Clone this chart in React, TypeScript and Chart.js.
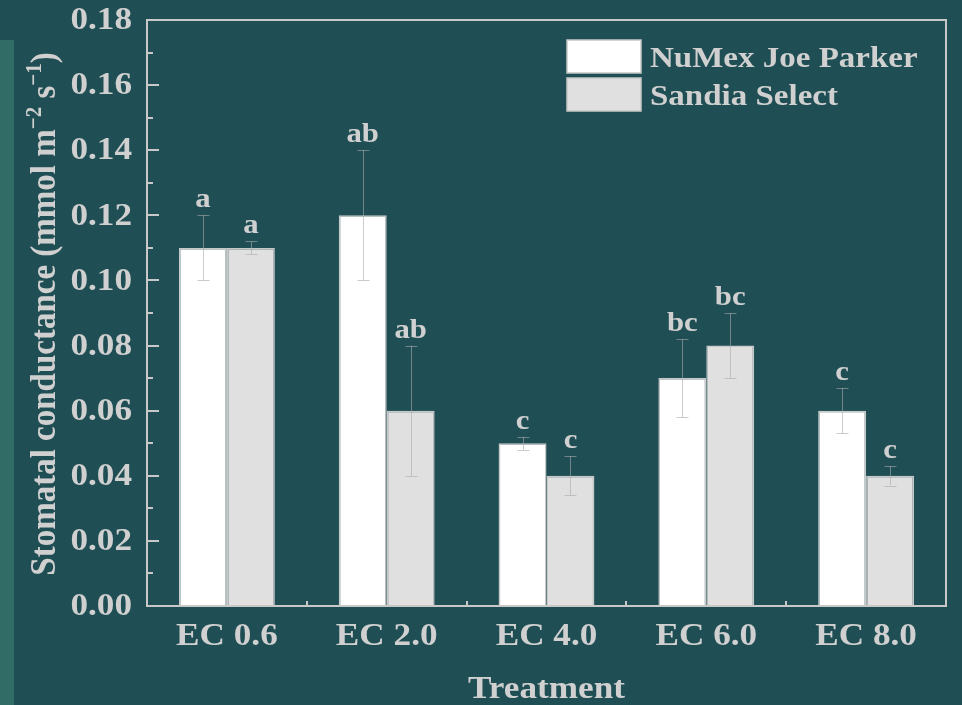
import React, { useEffect, useRef } from "react";
import { Chart, registerables } from "chart.js";

Chart.register(...registerables);

const categories = ["EC 0.6", "EC 2.0", "EC 4.0", "EC 6.0", "EC 8.0"];
const numexValues = [0.11, 0.12, 0.05, 0.07, 0.06];
const numexErrors = [0.01, 0.02, 0.002, 0.012, 0.007];
const numexLetters = ["a", "ab", "c", "bc", "c"];
const sandiaValues = [0.11, 0.06, 0.04, 0.08, 0.04];
const sandiaErrors = [0.002, 0.02, 0.006, 0.01, 0.003];
const sandiaLetters = ["a", "ab", "c", "bc", "c"];
const seriesNames = ["NuMex Joe Parker", "Sandia Select"];
const yTicksMax = 0.18;
const yStep = 0.02;

const FONT = '"Liberation Serif", "Times New Roman", serif';
const TEXT = "#d0d0d0";
const FRAME = "#c8c8c8";
const BG = "#1f4f55";
const STRIP = "#326c67";
const SX = 1.1;

const errorsBy = [numexErrors, sandiaErrors];
const lettersBy = [numexLetters, sandiaLetters];

function stretchText(
  ctx: CanvasRenderingContext2D,
  text: string,
  x: number,
  y: number,
  font: string,
  align: CanvasTextAlign,
  baseline: CanvasTextBaseline
) {
  ctx.save();
  ctx.translate(x, y);
  ctx.scale(SX, 1);
  ctx.font = font;
  ctx.textAlign = align;
  ctx.textBaseline = baseline;
  ctx.fillStyle = TEXT;
  ctx.fillText(text, 0, 0);
  ctx.restore();
}

const decorPlugin = {
  id: "decor",
  beforeDraw(chart: any) {
    const ctx = chart.ctx;
    ctx.save();
    ctx.fillStyle = BG;
    ctx.fillRect(0, 0, chart.width, chart.height);
    ctx.fillStyle = STRIP;
    ctx.fillRect(0, 40, 14, chart.height - 40);
    ctx.restore();
  },
  afterDatasetsDraw(chart: any) {
    const ctx = chart.ctx;
    const y = chart.scales.y;
    const x = chart.scales.x;
    const area = chart.chartArea;
    ctx.save();
    // error bars and letters
    chart.data.datasets.forEach((ds: any, i: number) => {
      const meta = chart.getDatasetMeta(i);
      meta.data.forEach((el: any, j: number) => {
        const v = ds.data[j];
        const e = errorsBy[i][j];
        const top = y.getPixelForValue(v + e);
        const bot = y.getPixelForValue(v - e);
        const cx = Math.round(el.x) + 0.5;
        ctx.strokeStyle = "rgba(170,170,170,0.6)";
        ctx.lineWidth = 1;
        ctx.beginPath();
        ctx.moveTo(cx, top);
        ctx.lineTo(cx, bot);
        ctx.moveTo(cx - 6, Math.round(top) + 0.5);
        ctx.lineTo(cx + 6, Math.round(top) + 0.5);
        ctx.moveTo(cx - 6, Math.round(bot) + 0.5);
        ctx.lineTo(cx + 6, Math.round(bot) + 0.5);
        ctx.stroke();
        stretchText(ctx, lettersBy[i][j], el.x, top - 8, `bold 28px ${FONT}`, "center", "alphabetic");
      });
    });
    // frame
    ctx.strokeStyle = FRAME;
    ctx.lineWidth = 2;
    ctx.strokeRect(area.left, area.top, area.right - area.left, area.bottom - area.top);
    // y ticks (inward)
    ctx.beginPath();
    const nSteps = Math.round(yTicksMax / yStep);
    for (let k = 0; k <= nSteps; k++) {
      const py = Math.round(y.getPixelForValue(k * yStep));
      ctx.moveTo(area.left, py);
      ctx.lineTo(area.left + 12, py);
      if (k < nSteps) {
        const pm = Math.round(y.getPixelForValue(k * yStep + yStep / 2));
        ctx.moveTo(area.left, pm);
        ctx.lineTo(area.left + 6, pm);
      }
    }
    // x ticks at category boundaries
    for (let i = 0; i < categories.length - 1; i++) {
      const px = Math.round((x.getPixelForValue(i) + x.getPixelForValue(i + 1)) / 2);
      ctx.moveTo(px, area.bottom);
      ctx.lineTo(px, area.bottom - 5);
    }
    ctx.stroke();
    // y tick labels
    y.ticks.forEach((t: any) => {
      stretchText(ctx, Number(t.value).toFixed(2), 132, y.getPixelForValue(t.value) + 1, `bold 32px ${FONT}`, "right", "middle");
    });
    // x tick labels
    chart.data.labels.forEach((lab: string, i: number) => {
      stretchText(ctx, lab, x.getPixelForValue(i), 645, `bold 32px ${FONT}`, "center", "alphabetic");
    });
    // legend
    const boxX = 567, boxW = 74, boxH = 33;
    const rows = [40, 78];
    chart.data.datasets.forEach((ds: any, i: number) => {
      ctx.fillStyle = ds.backgroundColor;
      ctx.fillRect(boxX, rows[i], boxW, boxH);
      ctx.strokeStyle = FRAME;
      ctx.lineWidth = 1.5;
      ctx.strokeRect(boxX, rows[i], boxW, boxH);
      stretchText(ctx, ds.label, 650, rows[i] + 27, `bold 30px ${FONT}`, "left", "alphabetic");
    });
    // x title
    stretchText(ctx, "Treatment", (area.left + area.right) / 2, 698, `bold 32px ${FONT}`, "center", "alphabetic");
    // y title with superscripts
    const parts: { t: string; sup: boolean }[] = [
      { t: "Stomatal conductance (mmol m", sup: false },
      { t: "\u22122", sup: true },
      { t: " s", sup: false },
      { t: "\u22121", sup: true },
      { t: ")", sup: false },
    ];
    const big = `bold 33px ${FONT}`;
    const small = `bold 21px ${FONT}`;
    let total = 0;
    const widths = parts.map((p) => {
      ctx.font = p.sup ? small : big;
      const w = ctx.measureText(p.t).width;
      total += w;
      return w;
    });
    ctx.save();
    ctx.translate(55, 314);
    ctx.rotate(-Math.PI / 2);
    ctx.scale(1, SX);
    ctx.textAlign = "left";
    ctx.textBaseline = "alphabetic";
    ctx.fillStyle = TEXT;
    let cur = -total / 2;
    parts.forEach((p, i) => {
      ctx.font = p.sup ? small : big;
      ctx.fillText(p.t, cur, p.sup ? -13 : 0);
      cur += widths[i];
    });
    ctx.restore();
    ctx.restore();
  },
};

export default function App() {
  const ref = useRef<HTMLCanvasElement | null>(null);
  useEffect(() => {
    document.body.style.margin = "0";
    document.body.style.background = BG;
    if (!ref.current) return;
    const chart = new Chart(ref.current, {
      type: "bar",
      data: {
        labels: categories,
        datasets: [
          {
            label: seriesNames[0],
            data: numexValues,
            backgroundColor: "#ffffff",
            borderColor: FRAME,
            borderWidth: 1.5,
          },
          {
            label: seriesNames[1],
            data: sandiaValues,
            backgroundColor: "#e0e0e0",
            borderColor: FRAME,
            borderWidth: 1.5,
          },
        ],
      },
      options: {
        animation: false,
        responsive: true,
        maintainAspectRatio: false,
        layout: { padding: { top: 20, right: 16, left: 0, bottom: 0 } },
        datasets: { bar: { categoryPercentage: 0.6, barPercentage: 1.0 } },
        plugins: { legend: { display: false }, tooltip: { enabled: false } },
        scales: {
          x: {
            grid: { display: false, drawTicks: false },
            border: { display: false },
            ticks: { display: false },
            afterFit: (s: any) => {
              s.height = 99;
            },
          },
          y: {
            min: 0,
            max: yTicksMax,
            grid: { display: false, drawTicks: false },
            border: { display: false },
            ticks: { display: false, stepSize: yStep },
            afterFit: (s: any) => {
              s.width = 147;
            },
          },
        },
      },
      plugins: [decorPlugin],
    });
    return () => chart.destroy();
  }, []);
  return (
    <div style={{ width: 962, height: 705, position: "relative" }}>
      <canvas ref={ref} />
    </div>
  );
}
